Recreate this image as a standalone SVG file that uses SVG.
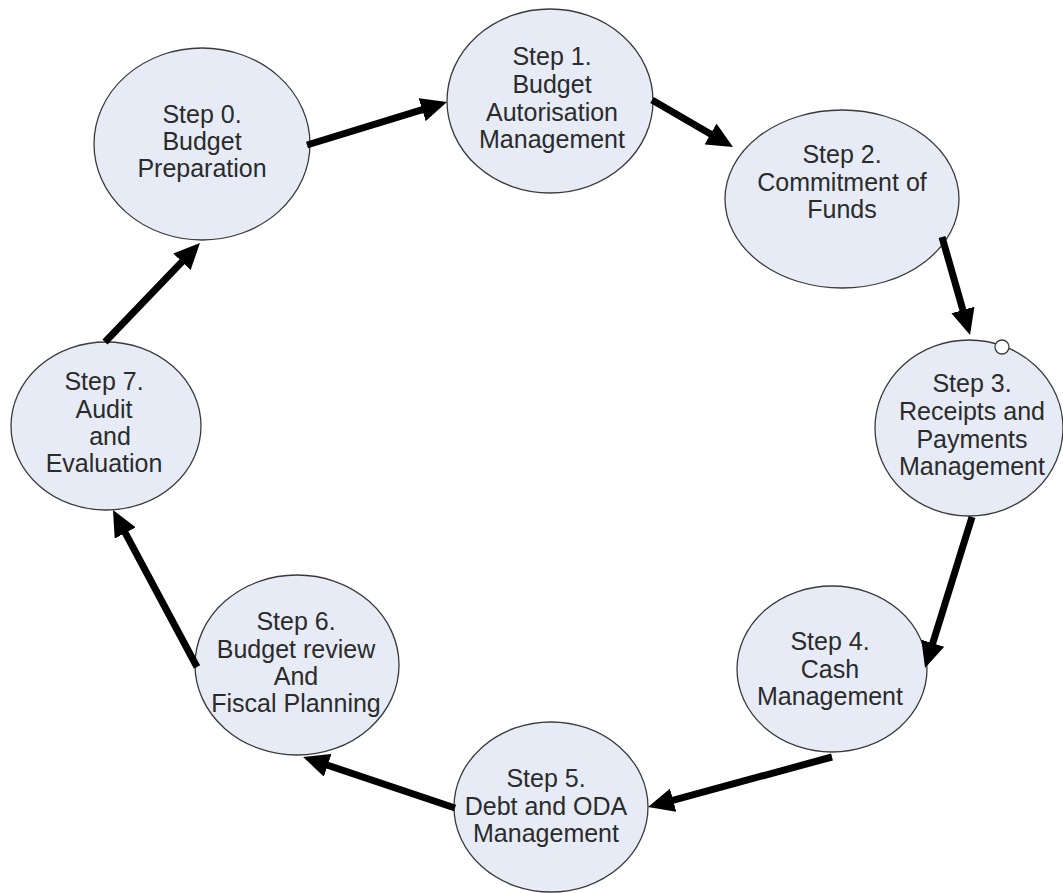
<svg xmlns="http://www.w3.org/2000/svg" width="1063" height="893" viewBox="0 0 1063 893">
<style>
.node ellipse{fill:#e6ebf6;stroke:#3a3a3a;stroke-width:1.3}
.node text{font-family:"Liberation Sans",Arial,sans-serif;font-size:25px;fill:#2b2b2b;text-anchor:middle}
.conn line{stroke:#000;stroke-width:7;marker-end:url(#ah)}
</style>
<defs>
<marker id="ah" viewBox="0 0 26 24" refX="8" refY="12" markerWidth="26" markerHeight="24" markerUnits="userSpaceOnUse" orient="auto">
<path d="M0,0 L26,12 L0,24 z" fill="#000"/>
</marker>
</defs>
<rect width="1063" height="893" fill="#fff"/>
<g id="step0" class="node"><ellipse cx="202" cy="144" rx="108" ry="96"/>
<text x="202" y="123">Step 0.</text><text x="202" y="150">Budget</text><text x="202" y="177">Preparation</text></g>
<g id="step1" class="node"><ellipse cx="550" cy="101" rx="103" ry="92"/>
<text x="552" y="65">Step 1.</text><text x="552" y="93">Budget</text><text x="552" y="121">Autorisation</text><text x="552" y="148">Management</text></g>
<g id="step2" class="node"><ellipse cx="842" cy="199" rx="117" ry="89"/>
<text x="842" y="163">Step 2.</text><text x="842" y="191">Commitment of</text><text x="842" y="218">Funds</text></g>
<g id="step3" class="node"><ellipse cx="969" cy="428" rx="94" ry="88"/>
<text x="972" y="392">Step 3.</text><text x="972" y="420">Receipts and</text><text x="972" y="448">Payments</text><text x="972" y="475">Management</text></g>
<circle cx="1002" cy="347" r="7" fill="#fff" stroke="#3a3a3a" stroke-width="1.3"/>
<g id="step4" class="node"><ellipse cx="832" cy="669" rx="95" ry="83"/>
<text x="830" y="650">Step 4.</text><text x="830" y="678">Cash</text><text x="830" y="705">Management</text></g>
<g id="step5" class="node"><ellipse cx="551" cy="807" rx="97" ry="85"/>
<text x="546" y="787">Step 5.</text><text x="546" y="815">Debt and ODA</text><text x="546" y="842">Management</text></g>
<g id="step6" class="node"><ellipse cx="297" cy="665" rx="102" ry="90"/>
<text x="296" y="630">Step 6.</text><text x="296" y="658">Budget review</text><text x="296" y="685">And</text><text x="296" y="712">Fiscal Planning</text></g>
<g id="step7" class="node"><ellipse cx="106" cy="426" rx="95" ry="84"/>
<text x="104" y="390">Step 7.</text><text x="104" y="418">Audit</text><text x="110" y="445">and</text><text x="104" y="472">Evaluation</text></g>
<g id="connectors" class="conn">
<line x1="307" y1="145" x2="429.8" y2="107.3"/>
<line x1="652" y1="100" x2="717.4" y2="138"/>
<line x1="942" y1="237" x2="965.1" y2="317.7"/>
<line x1="972" y1="517" x2="930.4" y2="650.8"/>
<line x1="832" y1="757" x2="665.4" y2="802.3"/>
<line x1="455" y1="808" x2="320.1" y2="762.7"/>
<line x1="197" y1="667" x2="121.5" y2="525.9"/>
<line x1="105" y1="342" x2="187.5" y2="256"/>
</g>
</svg>
